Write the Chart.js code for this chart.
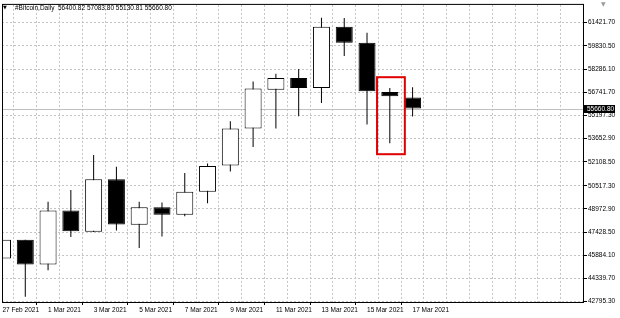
<!DOCTYPE html>
<html>
<head>
<meta charset="utf-8">
<script src="https://cdn.jsdelivr.net/npm/chart.js@4.4.1/dist/chart.umd.min.js"></script>
<style>
    html, body { margin: 0; padding: 0; background: #fff; }
</style>
</head>
<body>
<canvas id="chart" width="620" height="318"></canvas>
<script>
// daily bars
const dates = ['27 Feb 2021', '28 Feb 2021', '1 Mar 2021', '2 Mar 2021', '3 Mar 2021', '4 Mar 2021', '5 Mar 2021',
    '6 Mar 2021', '7 Mar 2021', '8 Mar 2021', '9 Mar 2021', '10 Mar 2021', '11 Mar 2021', '12 Mar 2021',
    '13 Mar 2021', '14 Mar 2021', '15 Mar 2021', '16 Mar 2021', '17 Mar 2021'];
const opens  = [45670, 46920, 45270, 48870, 47460, 50960, 47920, 49080, 48580, 50120, 51860, 54340, 56920, 57690, 57030, 61110, 60050, 56760, 56400.82];
const highs  = [48400, 46920, 49460, 50240, 52570, 51780, 49460, 49410, 51360, 52000, 54820, 57470, 57980, 58300, 61710, 61700, 60710, 57030, 57083.80];
const lows   = [45070, 43130, 44890, 47100, 47430, 47540, 46370, 47140, 48490, 49350, 51470, 53100, 54340, 55150, 56030, 59170, 54600, 53350, 55130.81];
const closes = [46920, 45270, 48870, 47480, 50960, 47940, 49080, 48580, 50120, 51840, 54340, 56990, 57690, 57030, 61110, 60050, 56810, 56480, 55660.80];

// price scale labels as the terminal prints them
const priceTicks = [42795.30, 44339.70, 45884.10, 47428.50, 48972.90, 50517.30, 52108.50,
    53652.90, 55197.30, 56741.70, 58286.10, 59830.50, 61421.70];

const SYMBOL = '#Bitcoin,Daily';
const LAST_PRICE = closes[closes.length - 1];
// highlighted bar (16 Mar) and the price range of the red box
const MARKED_DAY = 17;
const MARK_LOW = 52620;
const MARK_HIGH = 57750;

const CANVAS = document.getElementById('chart');
const FONT = '6.5px "Liberation Sans"';
const GRID = '#c4c4c4';

Chart.defaults.font.family = '"Liberation Sans", sans-serif';
Chart.defaults.font.size = 6.5;
Chart.defaults.color = '#000';

const dayIndex = dates.map((d, i) => i);

const overlay = {
    id: 'overlay',
    beforeDatasetsDraw(chart) {
        const {ctx, chartArea, scales: {y}} = chart;
        // last price line
        const py = Math.round(y.getPixelForValue(LAST_PRICE)) + 0.5;
        ctx.save();
        ctx.strokeStyle = '#c0c0c0';
        ctx.lineWidth = 1;
        ctx.beginPath();
        ctx.moveTo(chartArea.left, py);
        ctx.lineTo(chartArea.right, py);
        ctx.stroke();
        ctx.restore();
    },
    afterDraw(chart) {
        const {ctx, chartArea, scales: {x, y}} = chart;
        const last = closes.length - 1;
        ctx.save();

        // frame
        ctx.strokeStyle = '#000';
        ctx.lineWidth = 1;
        ctx.strokeRect(chartArea.left + 0.5, chartArea.top - 0.5, chartArea.right - chartArea.left, chartArea.bottom - chartArea.top + 1);

        // red box round the marked bar
        const bx0 = x.getPixelForValue(MARKED_DAY - 0.56);
        const bx1 = x.getPixelForValue(MARKED_DAY + 0.66);
        const by0 = y.getPixelForValue(MARK_HIGH);
        const by1 = y.getPixelForValue(MARK_LOW);
        ctx.strokeStyle = '#e00000';
        ctx.lineWidth = 2;
        ctx.strokeRect(bx0, by0, bx1 - bx0, by1 - by0);

        // header
        ctx.fillStyle = '#000';
        ctx.font = '5px "DejaVu Sans"';
        ctx.textBaseline = 'middle';
        ctx.fillText('\u25BC', 3, 8);
        ctx.font = FONT;
        const header = `${SYMBOL}  ${opens[last].toFixed(2)} ${highs[last].toFixed(2)} ${lows[last].toFixed(2)} ${closes[last].toFixed(2)}`;
        ctx.fillText(header, 15, 8);

        // chart shift marker
        ctx.fillStyle = '#9a9a9a';
        ctx.font = '6px "DejaVu Sans"';
        ctx.fillText('\u25BC', 601, 4);

        // last price label
        const py = Math.round(y.getPixelForValue(LAST_PRICE));
        ctx.fillStyle = '#000';
        ctx.fillRect(chartArea.right, py - 4, 32, 8);
        ctx.fillStyle = '#fff';
        ctx.font = FONT;
        ctx.fillText(LAST_PRICE.toFixed(2), chartArea.right + 4, py + 0.5);
        ctx.restore();
    }
};

new Chart(CANVAS, {
    type: 'bar',
    data: {
        datasets: [
            {
                // bodies
                data: dayIndex.map(i => ({x: i, y: [opens[i], closes[i]]})),
                backgroundColor: dayIndex.map(i => closes[i] >= opens[i] ? '#fff' : '#000'),
                borderColor: '#000',
                borderWidth: 1,
                borderSkipped: false,
                barThickness: 17,
                grouped: false,
                inflateAmount: 0,
                clip: 0,
                order: 0
            },
            {
                // wicks
                data: dayIndex.map(i => ({x: i, y: [lows[i], highs[i]]})),
                backgroundColor: '#000',
                borderWidth: 0,
                barThickness: 1,
                grouped: false,
                inflateAmount: 0,
                clip: 0,
                order: 1
            }
        ]
    },
    options: {
        responsive: false,
        animation: false,
        devicePixelRatio: 1,
        layout: {padding: {left: 2, top: 3, right: 0, bottom: 0}, autoPadding: false},
        plugins: {legend: {display: false}, tooltip: {enabled: false}},
        scales: {
            x: {
                type: 'linear',
                min: -0.022,
                max: 25.48,
                offset: false,
                afterBuildTicks: s => {
                    s.ticks = [];
                    for (let i = 0; i <= 25; i++) s.ticks.push({value: i});
                },
                afterFit: s => { s.height = 16; },
                grid: {
                    color: GRID,
                    tickLength: 3,
                    tickBorderDash: [1, 0],
                    tickColor: c => (c.tick && c.tick.value % 2 === 0 && c.tick.value < dates.length) ? '#000' : 'rgba(0,0,0,0)'
                },
                border: {display: false, dash: [2, 2]},
                ticks: {
                    autoSkip: false,
                    maxRotation: 0,
                    align: 'start',
                    padding: 1,
                    callback: v => (v % 2 === 0 && v < dates.length) ? dates[v] : ''
                }
            },
            y: {
                position: 'right',
                min: 42775,
                max: 62566,
                afterBuildTicks: s => { s.ticks = priceTicks.map(v => ({value: v})); },
                afterFit: s => { s.width = 37; },
                grid: {
                    color: GRID,
                    tickLength: 4,
                    tickBorderDash: [1, 0],
                    tickColor: '#000'
                },
                border: {display: false, dash: [2, 2]},
                ticks: {
                    padding: 1,
                    callback: v => v.toFixed(2)
                }
            }
        }
    },
    plugins: [overlay]
});
</script>
</body>
</html>
